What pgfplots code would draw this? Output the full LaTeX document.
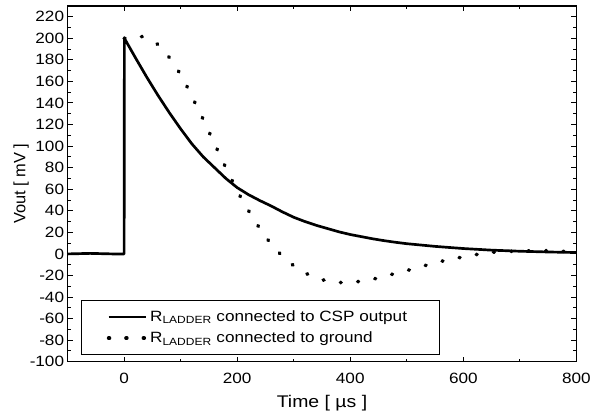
\documentclass[border=0pt]{standalone}
\usepackage{fontspec}
\setmainfont{Liberation Sans}[FakeStretch=1.15]
\newfontfamily\ylfont{Liberation Sans}
\usepackage{pgfplots}
\pgfplotsset{compat=1.18}
\begin{document}
\begin{tikzpicture}
\begin{axis}[
  scale only axis, width=512pt, height=358pt,
  xmin=-100, xmax=800, ymin=-100, ymax=230,
  xtick={0,200,...,800}, minor xtick={-100,100,300,500,700},
  ytick={-100,-80,...,220}, minor ytick={-90,-70,...,230},
  tick align=inside, major tick length=5pt, minor tick length=3pt,
  axis line style={line width=1.2pt},
  every tick/.style={line width=1pt, black},
  tick label style={font=\fontsize{15}{17}\selectfont},
  xticklabel shift=8pt,
  /pgf/number format/assume math mode=true,
  xlabel={Time [ µs ]},
  ylabel={\ylfont Vout [ mV ]},
  xlabel style={font=\fontsize{17}{20}\selectfont},
  ylabel style={font=\fontsize{16.5}{20}\selectfont},
  xlabel shift=5pt,
  ylabel shift=-6pt,
  legend style={at={(0.0273,0.0196)}, anchor=south west, draw=black, line width=1pt,
    inner xsep=25pt, inner ysep=8pt, font=\fontsize{15}{18}\selectfont, row sep=5pt},
  legend cell align=left,
  legend image code/.code={\draw[#1] (0pt,0pt) -- (38pt,0pt);},
]
\addplot[black, line width=2.7pt, line join=round, legend image post style={line width=2.7pt}] coordinates {
(-100,0) (-60,0.5) (-20,0) (0,0) (0.5,200) (20,182) (40,164) (60,147) (80,131) (100,116)
(120,102) (140,90) (160,80) (180,70) (200,61.5) (220,55) (240,49.5) (260,44.5)
(280,39) (300,34) (320,30) (340,26.5) (360,23.5) (380,20.5) (400,18) (420,16)
(440,14) (460,12.3) (480,10.8) (500,9.5) (550,7) (600,5) (650,3.5) (700,2.5)
(750,1.8) (800,1.3)};
\addlegendentry{R\textsubscript{LADDER} connected to CSP output\hspace*{6pt}}
\addplot[black, line width=3.6pt, line cap=round, dash pattern=on 0.9pt off 16.6pt, smooth, legend image post style={line width=3.6pt}] coordinates {
(0,200) (32,201.5) (58.6,194.7) (81,181.5) (98.4,167.6) (113.7,152.8) (127.7,137.7)
(141.8,122.9) (154.7,108) (168.5,92.7) (182,77.6) (196,63) (210,49) (226.7,34.6)
(243.7,20.7) (262.4,7.8) (284,-4) (310.5,-14.8) (339,-22) (370.5,-26.2) (401,-26.2)
(433,-24.3) (463,-20.3) (494,-16.3) (524,-12) (554,-7.7) (584.6,-4.3) (616,-1.2)
(647,1.3) (678,2.3) (707,2.8) (739,3) (772,2.5) (800,2)};
\addlegendentry{R\textsubscript{LADDER} connected to ground}
\end{axis}
\path (current axis.south west) ++(-68pt,-49pt) rectangle ++(594pt,413pt);
\end{tikzpicture}
\end{document}
